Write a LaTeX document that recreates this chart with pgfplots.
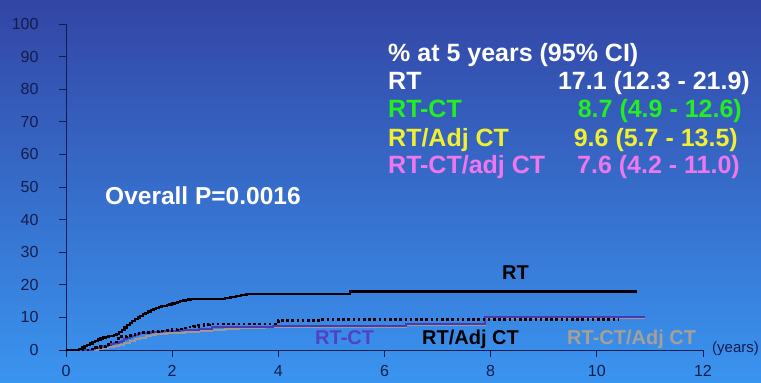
\documentclass[border=0pt]{standalone}
\usepackage{pgfplots}
\pgfplotsset{compat=1.18}
\usepackage{graphicx}
\usepackage{fontspec}
\setmainfont{Liberation Sans}
\definecolor{bgtop}{HTML}{3345A5}
\definecolor{bgmid}{HTML}{3A6FD6}
\definecolor{bgbot}{HTML}{3A95F0}
\definecolor{navy}{HTML}{141C4C}
\definecolor{rtct}{HTML}{4A3AB0}
\definecolor{rtctlab}{HTML}{5440C4}
\definecolor{grayln}{HTML}{9C9A98}
\definecolor{graylab}{HTML}{A89F95}
\definecolor{lgreen}{HTML}{22EE22}
\definecolor{lyellow}{HTML}{F0F030}
\definecolor{lpink}{HTML}{EE77EE}
\newcommand{\legf}{\fontsize{25}{27}\selectfont\bfseries}
\newcommand{\curvf}{\fontsize{20}{22}\selectfont\bfseries}
\begin{document}
\begin{tikzpicture}[x=1pt,y=1pt]
\useasboundingbox (0,0) rectangle (761,383);
\shade[top color=bgtop, middle color=bgmid, bottom color=bgbot] (0,0) rectangle (761,383);
\begin{axis}[
  at={(66pt,33pt)}, anchor=south west,
  x=53.08pt, y=3.26pt,
  xmin=0, xmax=12, ymin=0, ymax=100,
  axis lines=left,
  axis line style={-, navy, line width=0.8pt},
  xtick={0,2,...,12}, ytick={0,10,...,100},
  tick align=outside, major tick length=7pt,
  tick style={navy, line width=0.8pt},
  /pgf/number format/assume math mode=true,
  ticklabel style={font=\fontsize{16}{17}\selectfont, text=navy},
  yticklabel style={xshift=-17pt},
  xticklabel style={yshift=-5pt},
  clip=false,
]
\addplot[const plot, grayln, line width=2pt] coordinates {
(0,0) (0.4,0) (0.5,0.1) (0.6,0.3) (0.7,0.5) (0.8,0.8) (0.9,1.2) (1.0,1.6) (1.1,2.2) (1.2,2.8) (1.3,3.3) (1.4,3.8) (1.5,4.2) (1.6,4.6) (1.7,4.8) (1.8,5.0) (1.9,5.2) (2.0,5.3) (2.25,5.6) (2.5,5.8) (2.75,6.1) (3.0,6.3) (3.25,6.6) (3.5,6.8) (3.75,7.0) (4.0,7.2) (6.4,7.6) (7.9,9.9) (10.9,9.9)};
\addplot[const plot, rtct, line width=2pt] coordinates {
(0,0) (0.4,0) (0.45,0.15) (0.5,0.3) (0.55,0.5) (0.6,0.7) (0.65,0.9) (0.7,1.1) (0.75,1.3) (0.8,1.5) (0.85,1.75) (0.9,2.0) (0.95,2.25) (1.0,2.5) (1.05,2.9) (1.1,3.3) (1.15,3.7) (1.2,4.1) (1.25,4.4) (1.3,4.7) (1.35,5.0) (1.4,5.2) (1.5,5.35) (1.6,5.5) (1.7,5.6) (1.8,5.7) (1.9,5.8) (2.0,5.9) (2.15,6.05) (2.3,6.2) (2.5,6.3) (2.75,7.2) (3.9,7.4) (6.4,8.0) (7.9,10.2) (10.9,10.2)};
\addplot[const plot, black, line width=2.6pt, dash pattern=on 2.6pt off 2.6pt] coordinates {
(0,0) (0.35,0) (0.45,0.3) (0.55,0.7) (0.65,1.1) (0.75,1.7) (0.85,2.5) (0.95,3.5) (1.05,4.2) (1.15,4.5) (1.25,4.8) (1.35,5.1) (1.45,5.35) (1.6,5.6) (1.75,5.8) (1.9,6.0) (2.0,6.25) (2.1,6.5) (2.2,6.75) (2.3,7.0) (2.4,7.25) (2.5,7.5) (2.6,7.75) (2.7,8.0) (4.0,9.0) (4.8,9.4) (10.4,9.4)};
\addplot[const plot, black, line width=2.3pt] coordinates {
(0,0) (0.2,0) (0.25,0.4) (0.3,0.8) (0.35,1.2) (0.4,1.6) (0.45,2.0) (0.5,2.4) (0.55,2.8) (0.6,3.2) (0.65,3.5) (0.7,3.8) (0.75,4.0) (0.8,4.2) (0.85,4.4) (0.9,4.7) (0.95,5.0) (1.0,5.6) (1.05,6.2) (1.1,6.9) (1.15,7.6) (1.2,8.3) (1.25,9.0) (1.3,9.5) (1.35,10.0) (1.4,10.5) (1.45,11.0) (1.5,11.4) (1.55,11.8) (1.6,12.2) (1.65,12.6) (1.7,12.9) (1.75,13.2) (1.8,13.4) (1.85,13.6) (1.9,13.8) (1.95,14.0) (2.0,14.3) (2.05,14.5) (2.1,14.8) (2.15,15.0) (2.2,15.2) (2.25,15.3) (2.3,15.5) (2.35,15.6) (2.9,15.6) (3.0,15.9) (3.1,16.2) (3.2,16.5) (3.3,16.9) (3.4,17.2) (5.35,17.9) (10.75,17.9)};
\end{axis}
% legend block
\node[anchor=base west, inner sep=0, text=white] at (388,321) {\legf \% at 5 years (95\% CI)};
\node[anchor=base west, inner sep=0, text=white] at (388,293) {\legf RT};
\node[anchor=base east, inner sep=0, text=white] at (750,293) {\legf 17.1 (12.3 - 21.9)};
\node[anchor=base west, inner sep=0, text=lgreen] at (388,265) {\legf RT-CT};
\node[anchor=base east, inner sep=0, text=lgreen] at (742,265) {\legf 8.7 (4.9 - 12.6)};
\node[anchor=base west, inner sep=0, text=lyellow] at (388,236) {\legf RT/Adj CT};
\node[anchor=base east, inner sep=0, text=lyellow] at (738,236) {\legf 9.6 (5.7 - 13.5)};
\node[anchor=base west, inner sep=0, text=lpink] at (388,209) {\legf RT-CT/adj CT};
\node[anchor=base east, inner sep=0, text=lpink] at (740,209) {\legf 7.6 (4.2 - 11.0)};
% p value
\node[anchor=base west, inner sep=0, text=white] at (105,178) {\fontsize{24.5}{26}\selectfont\bfseries Overall P=0.0016};
% curve labels
\node[anchor=base west, inner sep=0, text=black] at (502,103) {\curvf RT};
\node[anchor=base west, inner sep=0, text=rtctlab] at (315,38) {\curvf RT-CT};
\node[anchor=base west, inner sep=0, text=black] at (422,38) {\curvf RT/Adj CT};
\node[anchor=base west, inner sep=0, text=graylab] at (567,38) {\curvf RT-CT/Adj CT};
\node[anchor=base west, inner sep=0, text=navy] at (712,30) {\fontsize{15}{16}\selectfont (years)};
\end{tikzpicture}
\end{document}
